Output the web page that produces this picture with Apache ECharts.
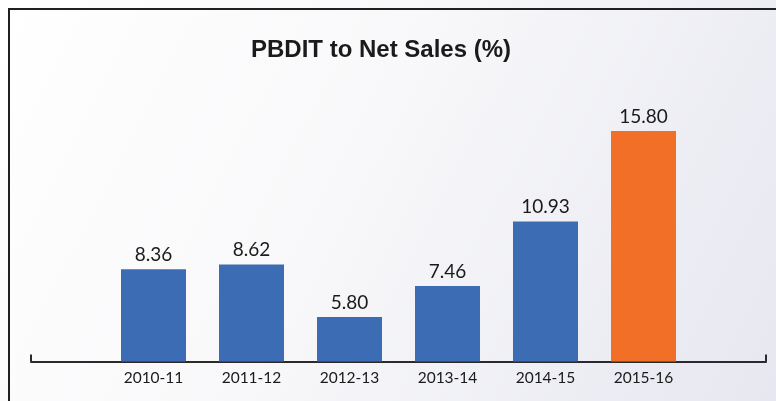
<!DOCTYPE html>
<html>
<head>
<meta charset="utf-8">
<script src="https://cdn.jsdelivr.net/npm/echarts@6/dist/echarts.min.js"></script>
<style>html,body{margin:0;padding:0;background:#fff}#c{width:776px;height:401px}</style>
</head>
<body>
<div id="c"></div>
<script>
const categories = ['2010-11', '2011-12', '2012-13', '2013-14', '2014-15', '2015-16'];
const values = [8.36, 8.62, 5.80, 7.46, 10.93, 15.80];
const barColors = ['#3c6cb4', '#3c6cb4', '#3c6cb4', '#3c6cb4', '#3c6cb4', '#f26f27'];
const titleText = 'PBDIT to Net Sales (%)';

const chart = echarts.init(document.getElementById('c'), null, {renderer: 'canvas'});
chart.setOption({
  animation: false,
  backgroundColor: new echarts.graphic.LinearGradient(0, 0, 1, 1, [
    {offset: 0, color: '#ffffff'},
    {offset: 0.45, color: '#f8f8fa'},
    {offset: 1, color: '#e6e7f0'}
  ]),
  title: {
    text: titleText,
    left: 376, top: 33, textAlign: 'center',
    textStyle: {fontFamily: 'Liberation Sans', fontWeight: 'bold', fontSize: 24, color: '#1a1a1a'}
  },
  graphic: [
    {type: 'rect', shape: {x: 8, y: 8, width: 768, height: 2}, style: {fill: '#231f20'}},
    {type: 'rect', shape: {x: 8, y: 8, width: 2, height: 393}, style: {fill: '#231f20'}}
  ],
  grid: [
    {left: 104.5, right: 83.5, top: 108.7, bottom: 39.5},
    {left: 31, right: 10, top: 108.7, bottom: 39.5}
  ],
  xAxis: [
    {
      type: 'category', gridIndex: 0, data: categories,
      axisLine: {show: false}, axisTick: {show: false},
      axisLabel: {color: '#1a1a1a', fontFamily: 'Lato', fontSize: 15.5, margin: 8}
    },
    {
      type: 'value', gridIndex: 1, min: 0, max: 1, interval: 1,
      axisLine: {show: true, lineStyle: {color: '#2a2a2a', width: 2}},
      axisTick: {show: true, inside: true, length: 7, lineStyle: {color: '#2a2a2a', width: 2}},
      axisLabel: {show: false}, splitLine: {show: false}
    }
  ],
  yAxis: [
    {type: 'value', gridIndex: 0, min: 3.4, max: 17, show: false, splitLine: {show: false}},
    {type: 'value', gridIndex: 1, min: 0, max: 1, show: false, splitLine: {show: false}}
  ],
  series: [{
    type: 'bar', xAxisIndex: 0, yAxisIndex: 0, barWidth: 65,
    data: values.map((v, i) => ({value: v, itemStyle: {color: barColors[i]}})),
    label: {
      show: true, position: 'top', distance: 5,
      formatter: p => p.value.toFixed(2),
      color: '#1a1a1a', fontFamily: 'Lato', fontSize: 19
    }
  }]
});
</script>
</body>
</html>
